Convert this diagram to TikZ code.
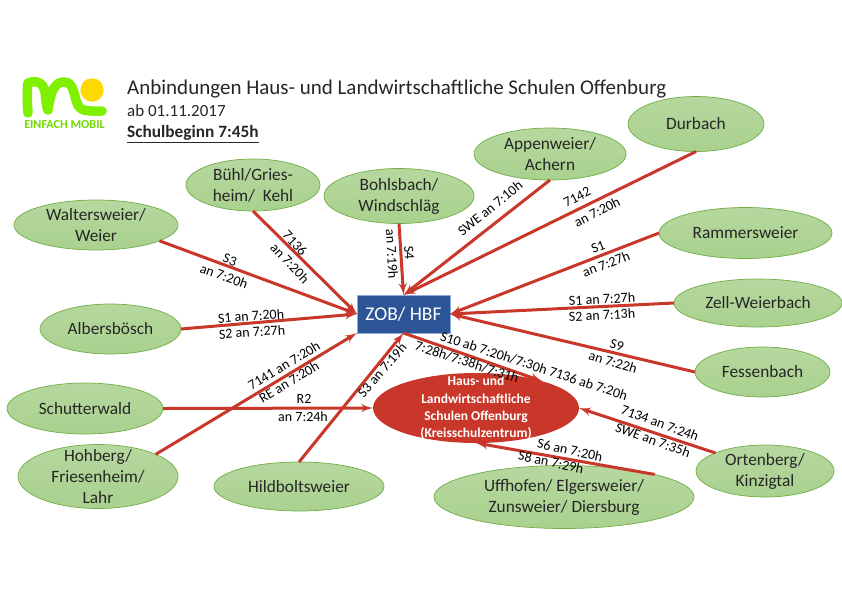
\documentclass[tikz,border=0pt]{standalone}
\usepackage{fontspec}
\setmainfont{Carlito}
\usepackage{tikz}
\usetikzlibrary{shapes.geometric, arrows}
\definecolor{linered}{HTML}{C9372A}
\definecolor{stopgreen}{HTML}{A9D18E}
\definecolor{stopedge}{HTML}{70AD47}
\definecolor{zobblue}{HTML}{2C5597}
\definecolor{zobedge}{HTML}{8FAADC}
\definecolor{logogreen}{HTML}{7FF000}
\definecolor{logoyellow}{HTML}{FFD800}
\tikzstyle{stopnode} =
[ellipse, inner sep = -45pt, outer sep = 0pt, text centered, align = center,
draw=stopedge, line width = 0.7pt, top color=stopgreen!85, bottom color=stopgreen,
text=black!85, font=\fontsize{17.3}{21}\selectfont]
\tikzstyle{hub} =
[rectangle, minimum width = 93pt, minimum height = 38pt, outer sep = 0pt,
text centered, draw=zobedge, line width = 0.7pt, fill=zobblue, text=white,
font=\fontsize{19.5}{20}\selectfont]
\tikzstyle{school} =
[ellipse, minimum width = 206pt, minimum height = 70pt, inner sep = -45pt,
outer sep = 0pt, text centered, align = center, fill=linered, text=white,
font=\fontsize{13.5}{17.3}\selectfont\bfseries]
\tikzstyle{edgetext} =
[inner sep = 0pt, text=black, font=\fontsize{14}{15}\selectfont]
\tikzstyle{headtext} =
[inner sep = 0pt, anchor = west, text=black!85]
\tikzstyle{line} = [draw, -latex', linered, line width = 3pt]

\begin{document}
\begin{tikzpicture}[x=1pt, y=-1pt]
  \useasboundingbox (0,0) rectangle (842,595);
  % logo
  \path [draw=logogreen, line width = 9.5pt, line cap=round, line join=round]
    (28,113) .. controls (27,100) and (27,90) .. (28,83)
    .. controls (36,80) and (43,82) .. (45,92)
    .. controls (46,100) and (46,106) .. (48,110)
    .. controls (50,98) and (52,83) .. (63,82)
    .. controls (74,81) and (74,96) .. (77,103)
    .. controls (80,112) and (88,111) .. (102,111);
  \fill [logoyellow] (92,90) circle (11.7);
  \node [inner sep = 0pt, text=logogreen!90!black, font=\fontsize{12.2}{13}\selectfont\bfseries]
    (logotext) at (64.5,124.5) {EINFACH MOBIL};
  % header lines
  \node [headtext, font=\fontsize{21}{22}\selectfont] (title) at (127,89)
   {Anbindungen Haus- und Landwirtschaftliche Schulen Offenburg};
  \node [headtext, font=\fontsize{17}{18}\selectfont] (valid) at (127,111)
   {ab 01.11.2017};
  \node [headtext, font=\fontsize{17.3}{18}\selectfont\bfseries] (begin) at (127,134)
   {\underline{Schulbeginn 7:45h}};
  % centre nodes
  \node [hub] (zob) at (403.5,314) {ZOB/ HBF};
  \node [school] (schule) at (476,408)
   {Haus- und\\ Landwirtschaftliche\\ Schulen Offenburg\\ (Kreisschulzentrum)};
  % outer nodes
  \node [stopnode, minimum width = 136pt, minimum height = 55pt] (durbach) at (696,124) {Durbach};
  \node [stopnode, minimum width = 152pt, minimum height = 52pt] (appenweier) at (550,154)
   {Appenweier/\\ Achern};
  \node [stopnode, minimum width = 173pt, minimum height = 51pt] (rammersweier) at (745.5,233)
   {Rammersweier};
  \node [stopnode, minimum width = 168pt, minimum height = 48pt] (zell) at (758,303)
   {Zell-Weierbach};
  \node [stopnode, minimum width = 135pt, minimum height = 50pt] (fessenbach) at (762.5,372)
   {Fessenbach};
  \node [stopnode, minimum width = 138pt, minimum height = 52pt] (ortenberg) at (765,471)
   {Ortenberg/\\ Kinzigtal};
  \node [stopnode, minimum width = 260pt, minimum height = 63pt] (uffhofen) at (564,497)
   {Uffhofen/ Elgersweier/\\ Zunsweier/ Diersburg};
  \node [stopnode, minimum width = 170pt, minimum height = 49pt] (hildboltsweier) at (299,486.5)
   {Hildboltsweier};
  \node [stopnode, minimum width = 160pt, minimum height = 64pt] (hohberg) at (98,476.5)
   {Hohberg/\\ Friesenheim/\\ Lahr};
  \node [stopnode, minimum width = 156pt, minimum height = 51pt] (schutterwald) at (85,408.5)
   {Schutterwald};
  \node [stopnode, minimum width = 141pt, minimum height = 50pt] (albersboesch) at (110.5,329)
   {Albersbösch};
  \node [stopnode, minimum width = 164pt, minimum height = 50pt] (waltersweier) at (96,225)
   {Waltersweier/\\ Weier};
  \node [stopnode, minimum width = 134pt, minimum height = 52pt] (buehl) at (253,185)
   {Bühl/Gries-\\ heim/\ \ Kehl};
  \node [stopnode, minimum width = 150pt, minimum height = 55pt] (bohlsbach) at (399,196)
   {Bohlsbach/\\ Windschläg};
  % edges to the hub
  \path [line] (waltersweier.-14) -- (zob.west);
  \path [line] (albersboesch.east) -- (zob.west);
  \path [line] (buehl.south) -- (zob.west);
  \path [line] (bohlsbach.south) -- (zob.north);
  \path [line] (appenweier.south) -- (zob.north);
  \path [line] (durbach.-90) -- (zob.north);
  \path [line] (rammersweier.west) -- (zob.east);
  \path [line] (zell.west) -- (zob.east);
  \path [line] (fessenbach.west) -- (zob.east);
  \path [line] (hohberg.21) -- (zob.south west);
  \path [line] (hildboltsweier.north) -- (zob.south);
  % edges to the school
  \path [line] (schutterwald.east) -- (schule.west);
  \path [line] (zob.south) -- (schule.22);
  \path [line] (ortenberg.160) -- (schule.east);
  \path [line] (uffhofen.14) -- (schule.south);
  % edge labels, left side
  \node [edgetext, rotate=-20] (wsone) at (230,260) {S3};
  \node [edgetext, rotate=-20] (wstwo) at (224,276) {an 7:20h};
  \node [edgetext, rotate=-47] (bhone) at (295,243) {7136};
  \node [edgetext, rotate=-47] (bhtwo) at (290,263) {an 7:20h};
  \node [edgetext, rotate=-87] (bsone) at (392,254) {an 7:19h};
  \node [edgetext, rotate=-87] (bstwo) at (409,253) {S4};
  \node [edgetext, rotate=4] (abone) at (251,316) {S1 an 7:20h};
  \node [edgetext, rotate=4] (abtwo) at (252,332) {S2 an 7:27h};
  \node [edgetext, rotate=31] (hoone) at (284,365.5) {7141 an 7:20h};
  \node [edgetext, rotate=31] (hotwo) at (289,382) {RE an 7:20h};
  \node [edgetext] (stone) at (304,399) {R2};
  \node [edgetext] (sttwo) at (303,417) {an 7:24h};
  \node [edgetext, rotate=49] (hione) at (382,370) {S3 an 7:19h};
  % edge labels, right side
  \node [edgetext, rotate=39] (apone) at (490,208) {SWE an 7:10h};
  \node [edgetext, rotate=27] (duone) at (577,197) {7142};
  \node [edgetext, rotate=27] (dutwo) at (597,212) {an 7:20h};
  \node [edgetext, rotate=21] (raone) at (598,247) {S1};
  \node [edgetext, rotate=21] (ratwo) at (606,264) {an 7:27h};
  \node [edgetext, rotate=3] (zeone) at (602,299) {S1 an 7:27h};
  \node [edgetext, rotate=3] (zetwo) at (602,315) {S2 an 7:13h};
  \node [edgetext, rotate=-17] (feone) at (617,345) {S9};
  \node [edgetext, rotate=-17] (fetwo) at (613,362) {an 7:22h};
  \node [edgetext, rotate=-18] (zoone) at (534,366) {S10 ab 7:20h/7:30h 7136 ab 7:20h};
  \node [edgetext, rotate=-18] (zotwo) at (467,362) {7:28h/7:38h/7:31h};
  \node [edgetext, rotate=-20] (orone) at (660,423) {7134 an 7:24h};
  \node [edgetext, rotate=-20] (ortwo) at (653,440) {SWE an 7:35h};
  \node [edgetext, rotate=-12] (ufone) at (570,450) {S6 an 7:20h};
  \node [edgetext, rotate=-12] (uftwo) at (551,462) {S8 an 7:29h};
\end{tikzpicture}
\end{document}
